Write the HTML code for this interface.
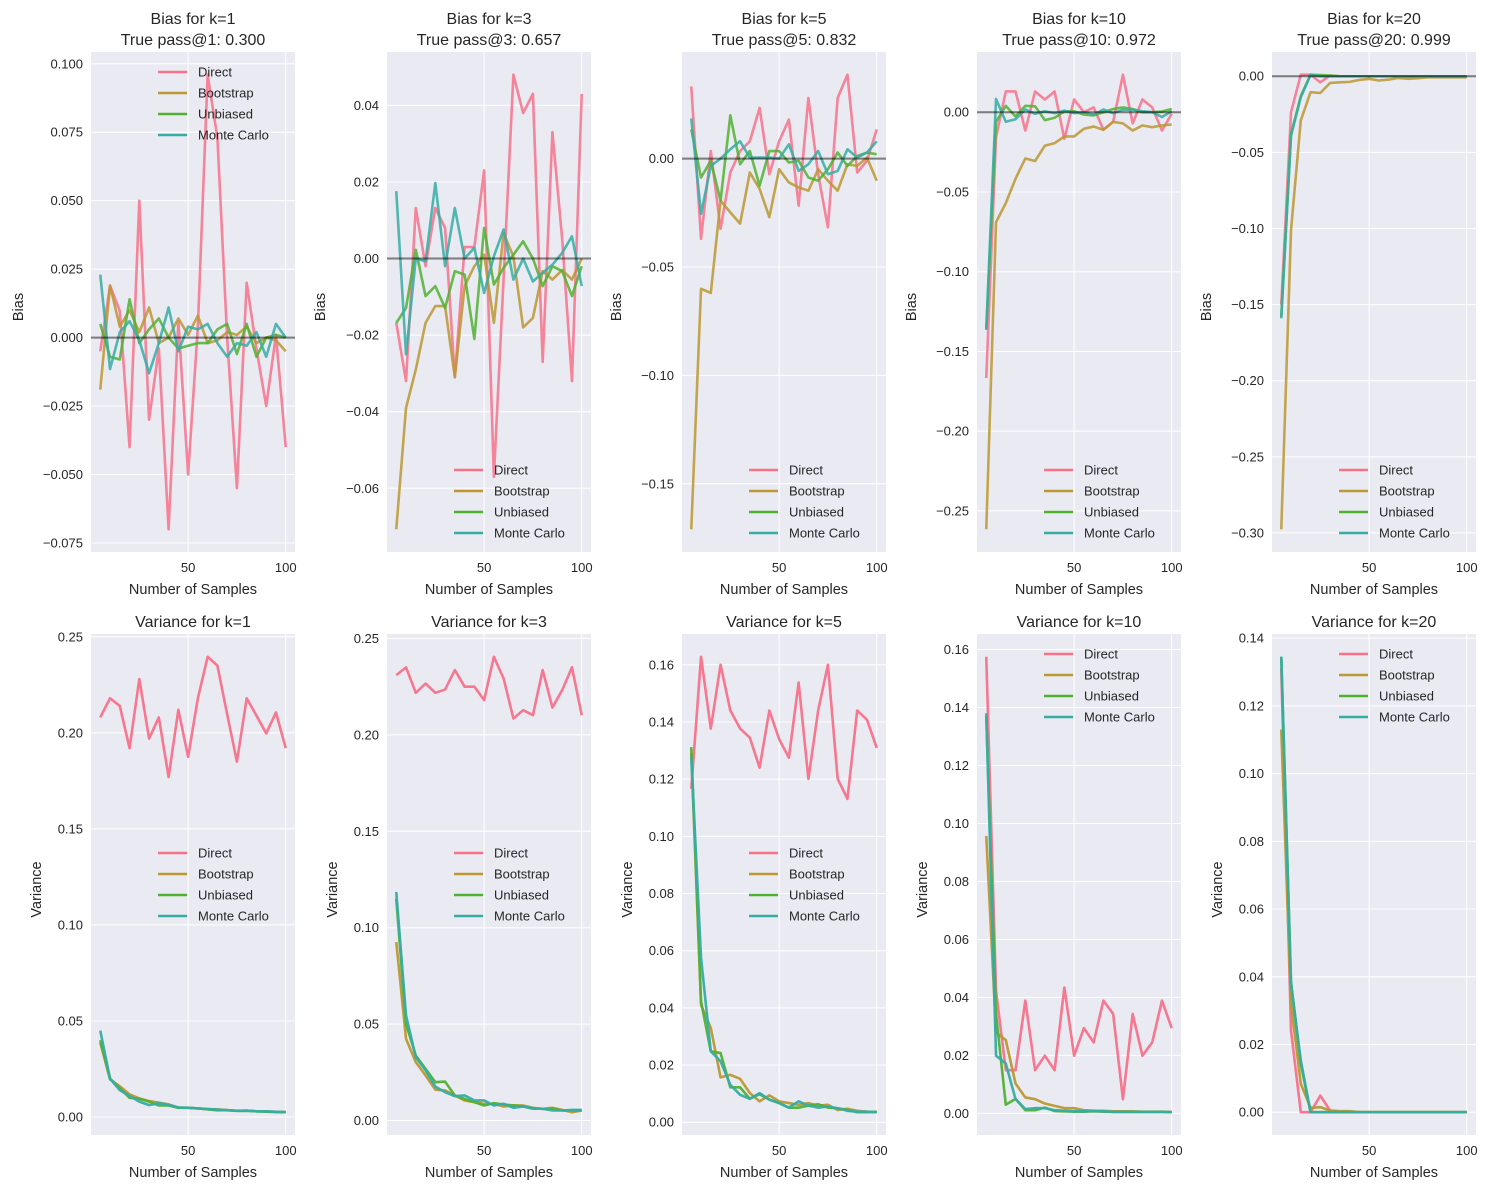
<!DOCTYPE html>
<html><head><meta charset="utf-8">
<style>
html,body{margin:0;padding:0;background:#fff;}
svg text{font-family:"Liberation Sans","DejaVu Sans",sans-serif;fill:#262626;}
</style></head>
<body>
<svg id="fig" width="1489" height="1189" viewBox="0 0 1489 1189" xmlns="http://www.w3.org/2000/svg"></svg>
<script>
const samples = [5,10,15,20,25,30,35,40,45,50,55,60,65,70,75,80,85,90,95,100];
const xTicks = [50,100];
const seriesNames = ["Direct","Bootstrap","Unbiased","Monte Carlo"];
const seriesColors = ["#f77189","#bb9832","#50b131","#36ada4"];

// Bias k=1
const biasK1Direct = [-0.005,0.019,0.0097,-0.040,0.050,-0.030,-0.004,-0.070,0.006,-0.050,0.004,0.096,0.073,0,-0.055,0.020,-0.004,-0.025,0.001,-0.040];
const biasK1Bootstrap = [-0.019,0.019,0.004,0.010,0.002,0.011,-0.002,0,0.007,0.001,0.008,-0.002,-0.001,0.002,0.001,0.004,-0.002,0,-0.001,-0.005];
const biasK1Unbiased = [0.005,-0.007,-0.008,0.014,-0.002,0.003,0.007,0,-0.004,-0.003,-0.002,-0.002,0.003,0.005,-0.006,0.005,-0.007,0,0.001,0];
const biasK1MC = [0.023,-0.0115,0.002,0.006,-0.001,-0.013,-0.002,0.011,-0.005,0.004,0.003,0.005,-0.002,-0.007,-0.002,-0.003,0.002,-0.007,0.005,0];
// Bias k=3
const biasK3Direct = [-0.0168,-0.032,0.0132,-0.002,0.0132,0.008,-0.031,0.003,0.003,0.023,-0.057,-0.005,0.048,0.038,0.043,-0.027,0.033,0.005,-0.032,0.043];
const biasK3Bootstrap = [-0.0707,-0.039,-0.029,-0.0168,-0.0124,-0.0124,-0.031,-0.0072,-0.002,0.001,-0.0168,0.0067,0.0005,-0.018,-0.0155,-0.0033,-0.0055,-0.003,-0.0055,0];
const biasK3Unbiased = [-0.0168,-0.0129,0.0023,-0.0098,-0.0072,-0.0129,-0.0033,-0.0042,-0.021,0.008,-0.0068,-0.0024,0.001,0.0045,0,-0.0072,-0.002,-0.0033,-0.0098,-0.002];
const biasK3MC = [0.0176,-0.025,0,-0.0007,0.0197,-0.002,0.0132,0,0.0028,-0.009,0.0006,0.0076,-0.0055,0,-0.006,-0.0037,-0.0016,0.0015,0.0058,-0.0072];
// Bias k=5
const biasK5Direct = [0.0333,-0.037,0.0035,-0.0324,-0.0064,0.0035,0.008,0.0234,-0.0072,0.008,0.018,-0.0217,0.028,-0.0072,-0.0317,0.028,0.0387,-0.0064,-0.001,0.0135];
const biasK5Bootstrap = [-0.171,-0.060,-0.062,-0.0194,-0.0248,-0.030,-0.0064,-0.014,-0.027,-0.0049,-0.011,-0.0133,-0.0148,-0.0049,-0.0102,-0.0148,-0.0026,-0.0034,0.0005,-0.0102];
const biasK5Unbiased = [0.0135,-0.0087,-0.001,-0.0194,0.020,-0.0026,0.0035,-0.0125,0.0035,0.0035,-0.0018,-0.001,-0.0087,-0.0102,-0.0049,0.0028,-0.0034,0.0012,0.0028,0.002];
const biasK5MC = [0.0185,-0.0255,-0.0034,0,0.0043,0.008,0.0005,0.0005,0.0005,0,0.0066,-0.0057,-0.0026,0.0035,-0.0072,-0.0057,0.0043,0.0005,0.0028,0.008];
// Bias k=10
const biasK10Direct = [-0.1667,-0.0156,0.013,0.013,-0.0115,0.013,0.008,0.013,-0.0167,0.008,0,0.003,-0.011,-0.006,0.0235,-0.007,0.008,0.003,-0.0115,-0.001];
const biasK10Bootstrap = [-0.2615,-0.069,-0.057,-0.0417,-0.029,-0.0306,-0.021,-0.0194,-0.0152,-0.0152,-0.0104,-0.009,-0.011,-0.006,-0.007,-0.0115,-0.0083,-0.0094,-0.0083,-0.0077];
const biasK10Unbiased = [-0.136,-0.006,0.004,-0.0027,0.004,0.0037,-0.005,-0.0035,0.0006,0.0006,-0.0015,-0.002,0,0.002,0.003,0.002,0,0,0.0004,0.002];
const biasK10MC = [-0.1365,0.0083,-0.006,-0.0044,0.0017,-0.001,0.0006,-0.0006,0.001,-0.0006,0,-0.0015,0.0017,-0.0006,0.0015,0.0015,0.0006,0,-0.003,0.0006];
// Bias k=20
const biasK20Direct = [-0.150,-0.0236,0.001,0.001,-0.004,0.0005,0,0,0,0,0,0,0,0,0,0,0,0,0,0];
const biasK20Bootstrap = [-0.2976,-0.101,-0.029,-0.0105,-0.011,-0.0044,-0.004,-0.0037,-0.0024,-0.0017,-0.0028,-0.0022,-0.0011,-0.0017,-0.0013,-0.0007,-0.0007,-0.0007,-0.0007,-0.0007];
const biasK20Unbiased = [-0.158,-0.038,-0.013,0.001,0.0008,0.0005,0,0,0,0,0,0,0,0,0,0,0,0,0,0];
const biasK20MC = [-0.159,-0.039,-0.0138,0.001,0,0,0,0,0,0,0,0,0,0,0,0,0,0,0,0];
// Variance k=1
const varK1Direct = [0.208,0.218,0.214,0.192,0.228,0.197,0.208,0.177,0.212,0.1875,0.218,0.2396,0.235,0.2097,0.185,0.218,0.209,0.1997,0.2106,0.192];
const varK1Bootstrap = [0.0387,0.0196,0.016,0.0118,0.0097,0.0083,0.0075,0.0066,0.0049,0.0049,0.0045,0.004,0.004,0.0036,0.0033,0.0033,0.003,0.003,0.0027,0.0026];
const varK1Unbiased = [0.040,0.020,0.015,0.010,0.0095,0.008,0.006,0.006,0.0048,0.0048,0.0045,0.004,0.0035,0.0036,0.0032,0.0033,0.003,0.0028,0.0026,0.0025];
const varK1MC = [0.045,0.020,0.014,0.011,0.008,0.0062,0.0072,0.0063,0.005,0.0048,0.0045,0.0042,0.0038,0.0035,0.0032,0.0033,0.003,0.003,0.0027,0.0025];
// Variance k=3
const varK3Direct = [0.231,0.235,0.2218,0.2266,0.2218,0.2235,0.2336,0.225,0.225,0.218,0.2405,0.2292,0.2085,0.2128,0.2102,0.2336,0.2142,0.2232,0.235,0.2102];
const varK3Bootstrap = [0.0926,0.0424,0.0303,0.0234,0.016,0.0156,0.013,0.0104,0.0095,0.0087,0.0087,0.0073,0.0078,0.0078,0.0066,0.006,0.0066,0.0055,0.0043,0.0052];
const varK3Unbiased = [0.115,0.050,0.0337,0.0268,0.0199,0.0202,0.013,0.0112,0.0095,0.0078,0.009,0.0083,0.0078,0.0073,0.0061,0.0061,0.0061,0.0052,0.0052,0.0052];
const varK3MC = [0.1185,0.0545,0.0329,0.026,0.0176,0.0147,0.0126,0.013,0.0104,0.0104,0.0078,0.0087,0.0066,0.0073,0.0064,0.0061,0.0052,0.0052,0.0055,0.0055];
// Variance k=5
const varK5Direct = [0.1166,0.1628,0.1377,0.160,0.144,0.1377,0.1345,0.124,0.144,0.134,0.1275,0.1538,0.1201,0.144,0.160,0.1201,0.1131,0.144,0.1408,0.1309];
const varK5Bootstrap = [0.129,0.041,0.033,0.0157,0.0166,0.0152,0.0102,0.0073,0.0094,0.0073,0.0067,0.0061,0.0067,0.0058,0.0061,0.0043,0.0047,0.004,0.0037,0.0035];
const varK5Unbiased = [0.1312,0.0423,0.0248,0.0242,0.0122,0.0122,0.0082,0.0098,0.0079,0.0067,0.0051,0.0051,0.0058,0.0063,0.0051,0.0049,0.0043,0.0035,0.0035,0.0037];
const varK5MC = [0.1277,0.0575,0.0248,0.0213,0.0131,0.0096,0.0082,0.0102,0.0079,0.0067,0.0051,0.0073,0.0058,0.0051,0.0055,0.0049,0.004,0.0037,0.0037,0.0035];
// Variance k=10
const varK10Direct = [0.1575,0.0423,0.0149,0.0149,0.0389,0.0149,0.0199,0.0149,0.0434,0.0199,0.0294,0.0245,0.0389,0.0343,0.0049,0.0343,0.0199,0.0245,0.0389,0.0294];
const varK10Bootstrap = [0.0957,0.0279,0.0253,0.0103,0.0055,0.0049,0.0034,0.0026,0.0018,0.0018,0.0011,0.0009,0.0009,0.0007,0.0007,0.0007,0.0006,0.0006,0.0006,0.0005];
const varK10Unbiased = [0.137,0.0343,0.003,0.005,0.0011,0.0011,0.002,0.0008,0.0007,0.0006,0.0006,0.0007,0.0006,0.0005,0.0005,0.0005,0.0005,0.0005,0.0005,0.0004];
const varK10MC = [0.138,0.0199,0.0172,0.0049,0.0015,0.0018,0.0018,0.0011,0.0009,0.0007,0.0007,0.0009,0.0007,0.0005,0.0005,0.0005,0.0005,0.0005,0.0005,0.0004];
// Variance k=20
const varK20Direct = [0.131,0.0241,0,0,0.0049,0.0005,0,0,0,0,0,0,0,0,0,0,0,0,0,0];
const varK20Bootstrap = [0.113,0.032,0.0084,0.0013,0.0015,0.0005,0.0003,0.0003,0,0,0,0,0,0,0,0,0,0,0,0];
const varK20Unbiased = [0.1345,0.0384,0.0143,0,0,0,0,0,0,0,0,0,0,0,0,0,0,0,0,0];
const varK20MC = [0.1345,0.038,0.0153,0,0,0,0,0,0,0,0,0,0,0,0,0,0,0,0,0];

// tick labels
const yTicksBias1 = ["0.100","0.075","0.050","0.025","0.000","-0.025","-0.050","-0.075"];
const yTicksBias3 = ["0.04","0.02","0.00","-0.02","-0.04","-0.06"];
const yTicksBias5 = ["0.00","-0.05","-0.10","-0.15"];
const yTicksBias10 = ["0.00","-0.05","-0.10","-0.15","-0.20","-0.25"];
const yTicksBias20 = ["0.00","-0.05","-0.10","-0.15","-0.20","-0.25","-0.30"];
const yTicksVar1 = ["0.00","0.05","0.10","0.15","0.20","0.25"];
const yTicksVar3 = ["0.00","0.05","0.10","0.15","0.20","0.25"];
const yTicksVar5 = ["0.00","0.02","0.04","0.06","0.08","0.10","0.12","0.14","0.16"];
const yTicksVar10 = ["0.00","0.02","0.04","0.06","0.08","0.10","0.12","0.14","0.16"];
const yTicksVar20 = ["0.00","0.02","0.04","0.06","0.08","0.10","0.12","0.14"];

const kValues = [1,3,5,10,20];
const truePass = ["0.300","0.657","0.832","0.972","0.999"];

const NS = "http://www.w3.org/2000/svg";
const svg = document.getElementById("fig");
function mk(tag, attrs, parent){
  const e = document.createElementNS(NS, tag);
  for (const k in attrs) e.setAttribute(k, attrs[k]);
  (parent||svg).appendChild(e);
  return e;
}

const panelLefts = [91,387,682,977,1272];
const PW = 204;
const rows = [{top:52,bottom:552},{top:634,bottom:1135}];

const panels = [
  {row:0,col:0,series:[biasK1Direct,biasK1Bootstrap,biasK1Unbiased,biasK1MC],ticks:yTicksBias1,bias:true,legendY:72,ylab:-73},
  {row:0,col:1,series:[biasK3Direct,biasK3Bootstrap,biasK3Unbiased,biasK3MC],ticks:yTicksBias3,bias:true,legendY:470,ylab:-67},
  {row:0,col:2,series:[biasK5Direct,biasK5Bootstrap,biasK5Unbiased,biasK5MC],ticks:yTicksBias5,bias:true,legendY:470,ylab:-66},
  {row:0,col:3,series:[biasK10Direct,biasK10Bootstrap,biasK10Unbiased,biasK10MC],ticks:yTicksBias10,bias:true,legendY:470,ylab:-66},
  {row:0,col:4,series:[biasK20Direct,biasK20Bootstrap,biasK20Unbiased,biasK20MC],ticks:yTicksBias20,bias:true,legendY:470,ylab:-66},
  {row:1,col:0,series:[varK1Direct,varK1Bootstrap,varK1Unbiased,varK1MC],ticks:yTicksVar1,bias:false,legendY:853,ylab:-55},
  {row:1,col:1,series:[varK3Direct,varK3Bootstrap,varK3Unbiased,varK3MC],ticks:yTicksVar3,bias:false,legendY:853,ylab:-55},
  {row:1,col:2,series:[varK5Direct,varK5Bootstrap,varK5Unbiased,varK5MC],ticks:yTicksVar5,bias:false,legendY:853,ylab:-55},
  {row:1,col:3,series:[varK10Direct,varK10Bootstrap,varK10Unbiased,varK10MC],ticks:yTicksVar10,bias:false,legendY:654,ylab:-55},
  {row:1,col:4,series:[varK20Direct,varK20Bootstrap,varK20Unbiased,varK20MC],ticks:yTicksVar20,bias:false,legendY:654,ylab:-55}
];

const xMin = 0.25, xMax = 104.75;

panels.forEach((p, idx) => {
  const L = panelLefts[p.col], R = L + PW;
  const T = rows[p.row].top, B = rows[p.row].bottom;
  const g = mk("g", {});
  
  

  let lo = Infinity, hi = -Infinity;
  p.series.forEach(s => s.forEach(v => { lo = Math.min(lo, v); hi = Math.max(hi, v); }));
  if (p.bias) { lo = Math.min(lo, 0); hi = Math.max(hi, 0); }
  const m = (hi - lo) * 0.05; lo -= m; hi += m;
  const xs = v => L + (v - xMin) / (xMax - xMin) * PW;
  const ys = v => B - (v - lo) / (hi - lo) * (B - T);

  const bg = mk("rect", {x:L, y:T, width:PW, height:B-T, fill:"#eaeaf2"}, g);
  
  

  // grid + ticks
  p.ticks.forEach(t => {
    const v = parseFloat(t);
    const y = ys(v);
    const gl = mk("line", {x1:L, x2:R, y1:y, y2:y, stroke:"#ffffff", "stroke-width":1}, g);
    
    
    const tl = mk("text", {x:L-8, y:y+4.5, "text-anchor":"end", "font-size":"13px"}, g);
    tl.textContent = t.replace("-", "\u2212");
    
    
  });
  xTicks.forEach(t => {
    const x = xs(t);
    const gl = mk("line", {x1:x, x2:x, y1:T, y2:B, stroke:"#ffffff", "stroke-width":1}, g);
    
    
    const tl = mk("text", {x:x, y:B+20, "text-anchor":"middle", "font-size":"13px"}, g);
    tl.textContent = String(t);
    
    
  });

  const clipId = "clip" + idx;
  const cp = mk("clipPath", {id:clipId}, g);
  mk("rect", {x:L, y:T, width:PW, height:B-T}, cp);

  // series lines
  p.series.forEach((s, si) => {
    const d = s.map((v, i) => (i ? "L" : "M") + xs(samples[i]).toFixed(2) + "," + ys(v).toFixed(2)).join(" ");
    const path = mk("path", {d:d, fill:"none", stroke:seriesColors[si], "stroke-width":2.6, "stroke-linejoin":"round", "stroke-opacity":p.bias?0.85:0.95, "clip-path":"url(#"+clipId+")"}, g);
    
    
  });

  if (p.bias) {
    const z = ys(0);
    const zl = mk("line", {x1:L, x2:R, y1:z, y2:z, stroke:"#000", "stroke-opacity":0.5, "stroke-width":2}, g);
    
    
  }

  // legend
  const lg = mk("g", {}, g);
  
  
  seriesNames.forEach((n, si) => {
    const y = p.legendY + si * 21;
    const ll = mk("line", {x1:L+67, x2:L+96, y1:y, y2:y, stroke:seriesColors[si], "stroke-width":2.6}, lg);
    
    
    const lt = mk("text", {x:L+107, y:y+4.5, "font-size":"13px"}, lg);
    lt.textContent = n;
    
    
  });

  // titles / labels
  const cx = L + PW / 2;
  if (p.bias) {
    const t1 = mk("text", {x:cx, y:24, "text-anchor":"middle", "font-size":"16px"}, g);
    t1.textContent = "Bias for k=" + kValues[p.col];
    
    
    const t2 = mk("text", {x:cx, y:45, "text-anchor":"middle", "font-size":"16px"}, g);
    t2.textContent = "True pass@" + kValues[p.col] + ": " + truePass[p.col];
    
    
  } else {
    const t1 = mk("text", {x:cx, y:627, "text-anchor":"middle", "font-size":"16px"}, g);
    t1.textContent = "Variance for k=" + kValues[p.col];
    
    
  }
  const xl = mk("text", {x:cx, y:B+42, "text-anchor":"middle", "font-size":"14.5px"}, g);
  xl.textContent = "Number of Samples";
  
  
  const ylx = L + p.ylab, yly = (T + B) / 2;
  const yl = mk("text", {x:ylx, y:yly, "text-anchor":"middle", "font-size":"14.5px", transform:"rotate(-90 "+(ylx+5)+" "+yly+")"}, g);
  yl.textContent = p.bias ? "Bias" : "Variance";
  
  
});
</script>
</body></html>
